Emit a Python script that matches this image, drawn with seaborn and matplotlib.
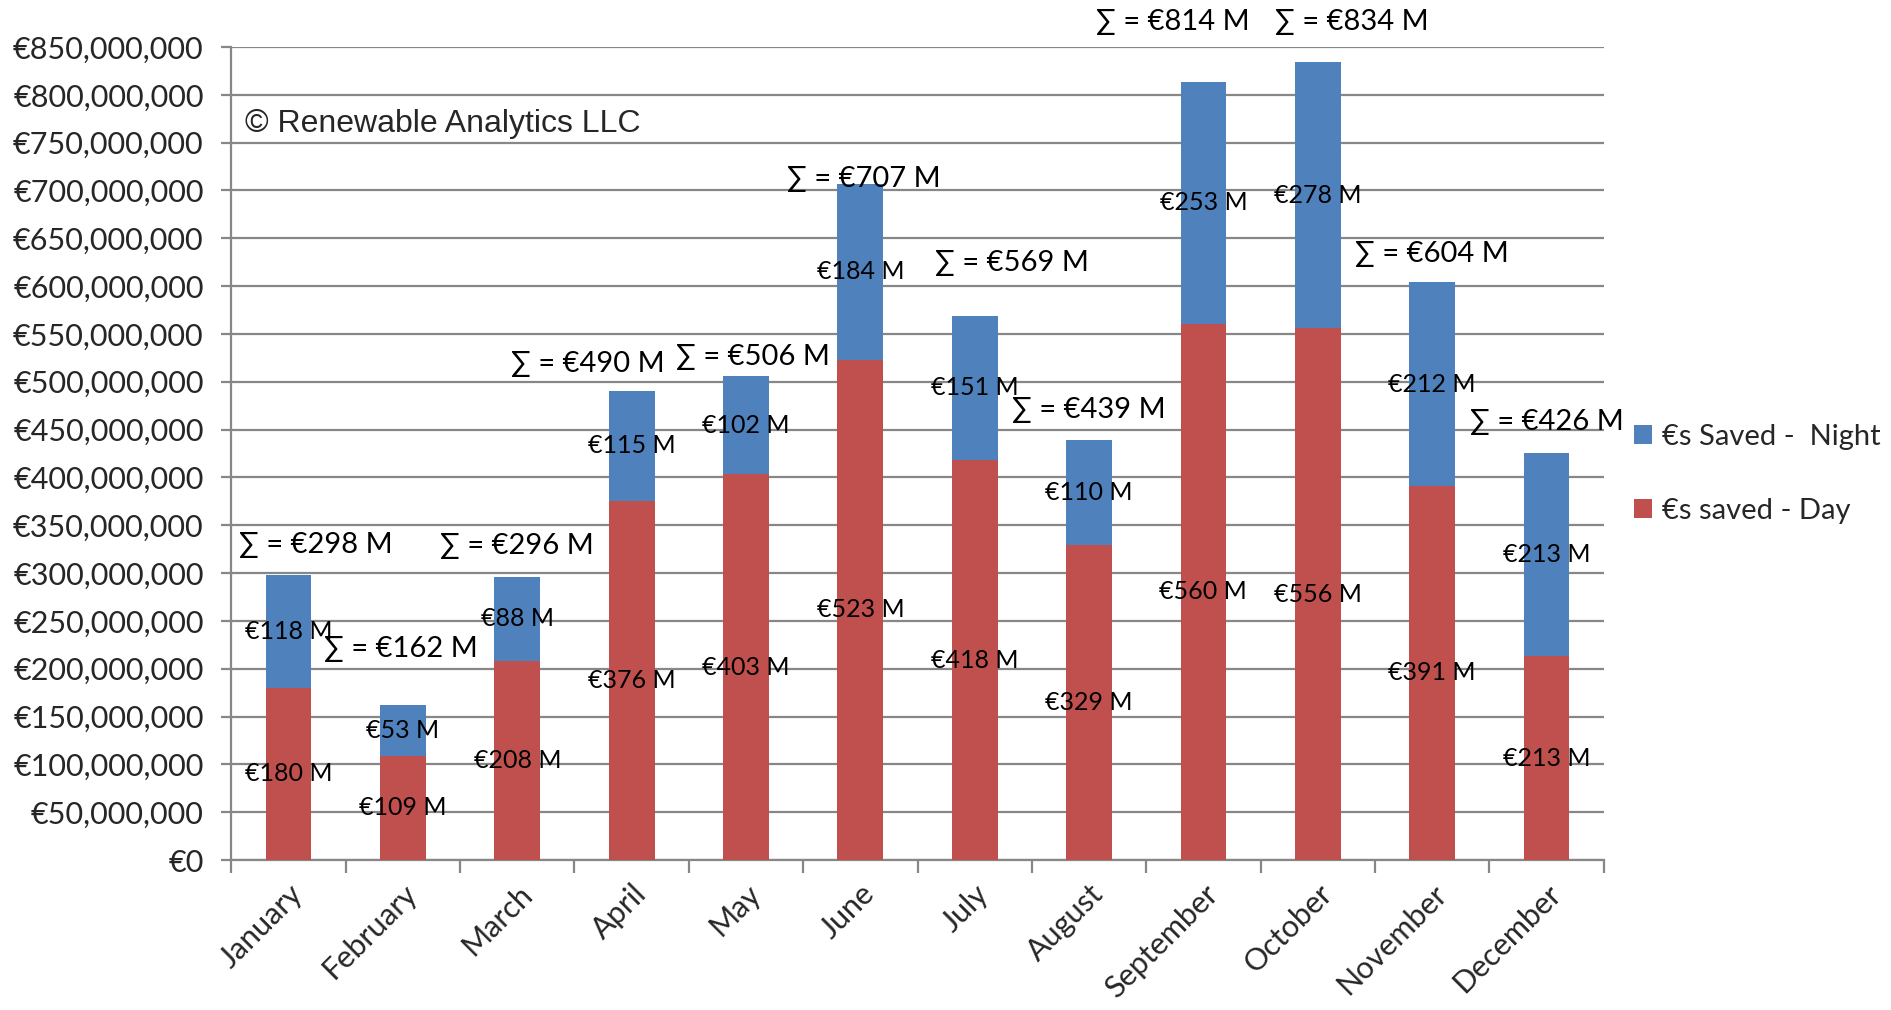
import matplotlib
matplotlib.use("Agg")
import matplotlib.pyplot as plt
import matplotlib.ticker as mticker
import matplotlib.transforms as mtransforms
from matplotlib.patches import Patch
import numpy as np
import pandas as pd
import seaborn as sns

# Monthly savings, in millions of euros
months = ["January", "February", "March", "April", "May", "June",
          "July", "August", "September", "October", "November", "December"]
day_saved = [180, 109, 208, 375.6, 403.4, 523, 418, 329, 560.4, 556, 391.4, 213]
night_saved = [118, 53, 88, 114.6, 102.4, 184, 151, 110, 253.4, 278, 212.4, 213]

y_ticks = list(range(0, 851, 50))
legend_labels = ["€s Saved -  Night", "€s saved - Day"]
credit = "© Renewable Analytics LLC"

# Placement of the total labels: shift along x (category units) and lift above the bar top (M)
sum_dx = [0.24, -0.02, 0.0, -0.38, 0.06, 0.03, 0.33, 0.0, -0.27, 0.30, 0.0, 0.0]
sum_dy = [31, 59, 32, 28, 20, 5, 55, 31, 62, 42, 30, 32]

BLUE = "#4F81BD"
RED = "#C0504D"
GRID = "#878787"

df = pd.DataFrame({"month": months, "day": day_saved, "night": night_saved})
df["total"] = df["day"] + df["night"]

sns.set_theme(style="white")
plt.rcParams["font.family"] = ["Lato", "DejaVu Sans"]

fig = plt.figure(figsize=(18.91, 10.10), dpi=100)
ax = fig.add_axes([0.1224, 0.1485, 0.7256, 0.805])

# Stacked look: full totals in blue, the day share drawn over them in red
sns.barplot(data=df, x="month", y="total", color=BLUE, saturation=1,
            width=0.4, ax=ax, zorder=3, linewidth=0)
sns.barplot(data=df, x="month", y="day", color=RED, saturation=1,
            width=0.4, ax=ax, zorder=4, linewidth=0)

ax.set_xlim(-0.5, len(months) - 0.5)
ax.set_ylim(0, 850)
ax.set_xlabel("")
ax.set_ylabel("")

ax.set_yticks(y_ticks)
ax.yaxis.set_major_formatter(mticker.FuncFormatter(lambda v, p: f"€{int(round(v * 1e6)):,}"))
ax.grid(axis="y", color=GRID, linewidth=1.6, zorder=0)
ax.set_axisbelow(True)

for side in ["top", "right"]:
    ax.spines[side].set_visible(False)
for side in ["left", "bottom"]:
    ax.spines[side].set_color(GRID)
    ax.spines[side].set_linewidth(1.6)

ax.tick_params(axis="y", which="major", length=7, width=1.6, color=GRID,
               labelsize=22, pad=13, left=True)
ax.set_xticks(range(len(months)))
ax.set_xticklabels(months, rotation=45, ha="right", rotation_mode="anchor", fontsize=22)
ax.tick_params(axis="x", which="major", length=0, pad=14)
ax.set_xticks(np.arange(-0.5, len(months), 1.0), minor=True)
ax.tick_params(axis="x", which="minor", length=9, width=1.6, color=GRID, bottom=True)

# Value labels centred in each segment, totals above each bar
for i, row in df.iterrows():
    ax.text(i, row["day"] / 2, f"€{row['day']:.0f} M", ha="center", va="center",
            fontsize=18, color="black", zorder=6)
    ax.text(i, row["day"] + row["night"] / 2, f"€{row['night']:.0f} M", ha="center",
            va="center", fontsize=18, color="black", zorder=6)
    ax.text(i + sum_dx[i], row["total"] + sum_dy[i], f"∑ = €{row['total']:.0f} M",
            ha="center", va="center", fontsize=21, color="black", zorder=6,
            clip_on=False)

ax.text(0.0098, 770, credit,
        transform=mtransforms.blended_transform_factory(ax.transAxes, ax.transData),
        ha="left", va="center", fontsize=23, family=["Liberation Sans", "DejaVu Sans"],
        zorder=6)

handles = [Patch(facecolor=BLUE, edgecolor="none"), Patch(facecolor=RED, edgecolor="none")]
fig.legend(handles, legend_labels, loc="center left", bbox_to_anchor=(0.858, 0.531),
           frameon=False, fontsize=21, handlelength=0.62, handleheight=0.62,
           handletextpad=0.35, labelspacing=1.65, borderaxespad=0)

fig.savefig("out.png", dpi=100, facecolor="white")
